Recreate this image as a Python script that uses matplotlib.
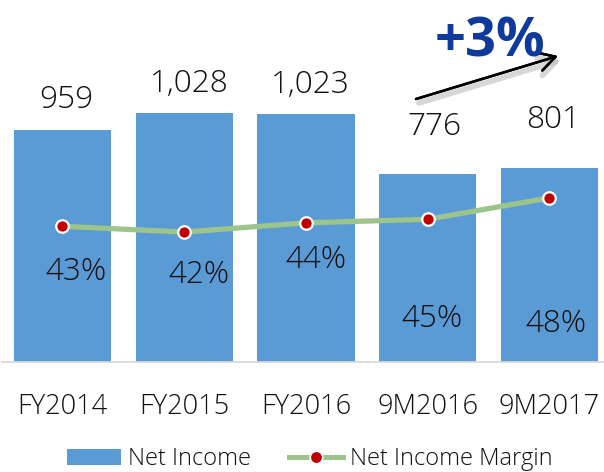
import matplotlib
matplotlib.use("Agg")
import matplotlib.pyplot as plt
from matplotlib.patches import Patch
from matplotlib.lines import Line2D

plt.rcParams['font.family'] = ['Open Sans', 'DejaVu Sans']
plt.rcParams['font.weight'] = 'light'

# data
periods = ['FY2014', 'FY2015', 'FY2016', '9M2016', '9M2017']
net_income = [959, 1028, 1023, 776, 801]
margin = [43.4, 42.4, 44.0, 44.6, 48.3]
margin_labels = ['43%', '42%', '44%', '45%', '48%']
growth_label = '+3%'

bar_color = '#5B9BD5'
line_color = '#9DC48A'
dot_color = '#C00000'

W, H = 604, 472
fig = plt.figure(figsize=(W / 100, H / 100), dpi=100)

# axes laid out in pixels
left, bottom, width, height = 1.6, 110, 608.7, 339
ax = fig.add_axes([left / W, bottom / H, width / W, height / H])
ax2 = ax.twinx()

x = list(range(len(periods)))
ax.bar(x, net_income, width=0.8, color=bar_color, zorder=2)
ax.set_xlim(-0.5, len(periods) - 0.5)
ax.set_ylim(0, 1400)

ax2.plot(x, margin, color=line_color, lw=3.8, zorder=3, solid_capstyle='round',
         marker='o', markersize=9, markerfacecolor=dot_color,
         markeredgecolor='white', markeredgewidth=1.6)
ax2.set_ylim(20, 20 + height / 5.8)

for a in (ax, ax2):
    for s in a.spines.values():
        s.set_visible(False)
    a.set_yticks([])
ax.spines['bottom'].set_visible(True)
ax.spines['bottom'].set_color('#D9D9D9')
ax.spines['bottom'].set_linewidth(1.3)

ax.set_xticks(x)
ax.set_xticklabels(periods, fontsize=19.6, color='#111111')
ax.tick_params(axis='x', length=0, pad=22)

# bar value labels (pixel offsets from bar top, like the hand-placed originals)
bar_offsets = [(4, 22), (5, 21), (4, 21), (7, 39), (4, 40)]
for xi, v, (dx, dy) in zip(x, net_income, bar_offsets):
    ax.annotate(f'{v:,}', (xi, v), xytext=(dx, dy), textcoords='offset pixels',
                ha='center', va='baseline', fontsize=22.8, color='#111111')

# margin labels, dragged below the markers
pct_offsets = [(14, -54), (15, -51), (10, -45), (4, -108), (7, -134)]
for xi, v, lab, (dx, dy) in zip(x, margin, margin_labels, pct_offsets):
    ax2.annotate(lab, (xi, v), xytext=(dx, dy), textcoords='offset pixels',
                 ha='center', va='baseline', fontsize=22.6, color='#111111',
                 zorder=5)

# growth arrow with soft shadow
arrow_start = (416, H - 99)
arrow_end = (558, H - 56)
for off, col, lw, al in [((3, -4), '#BBBBBB', 4, 0.35), ((0, 0), 'black', 1.8, 1)]:
    fig.add_artist(plt.annotate(
        '', xy=(arrow_end[0] + off[0], arrow_end[1] + off[1]),
        xytext=(arrow_start[0] + off[0], arrow_start[1] + off[1]),
        xycoords='figure pixels', textcoords='figure pixels',
        arrowprops=dict(arrowstyle='->,head_length=0.8,head_width=0.45',
                        mutation_scale=15, color=col, lw=lw, alpha=al,
                        shrinkA=0, shrinkB=0)))
fig.text(490 / W, (H - 56.7) / H, growth_label, ha='center', va='baseline',
         fontsize=39, fontweight='bold', color='#0E3A9C')

handles = [Patch(facecolor=bar_color, edgecolor='none'),
           Line2D([0], [0], color=line_color, lw=3.6, marker='o', markersize=9,
                  markerfacecolor=dot_color, markeredgecolor='white',
                  markeredgewidth=1.2)]
fig.legend(handles, ['Net Income', 'Net Income Margin'], loc='center',
           bbox_to_anchor=(310 / W, (H - 459) / H), ncol=2, frameon=False,
           fontsize=17, handlelength=2.3, handleheight=0.65,
           handletextpad=0.3, columnspacing=1.6, borderpad=0,
           labelcolor='#111111')

fig.savefig('out.png', dpi=100)
